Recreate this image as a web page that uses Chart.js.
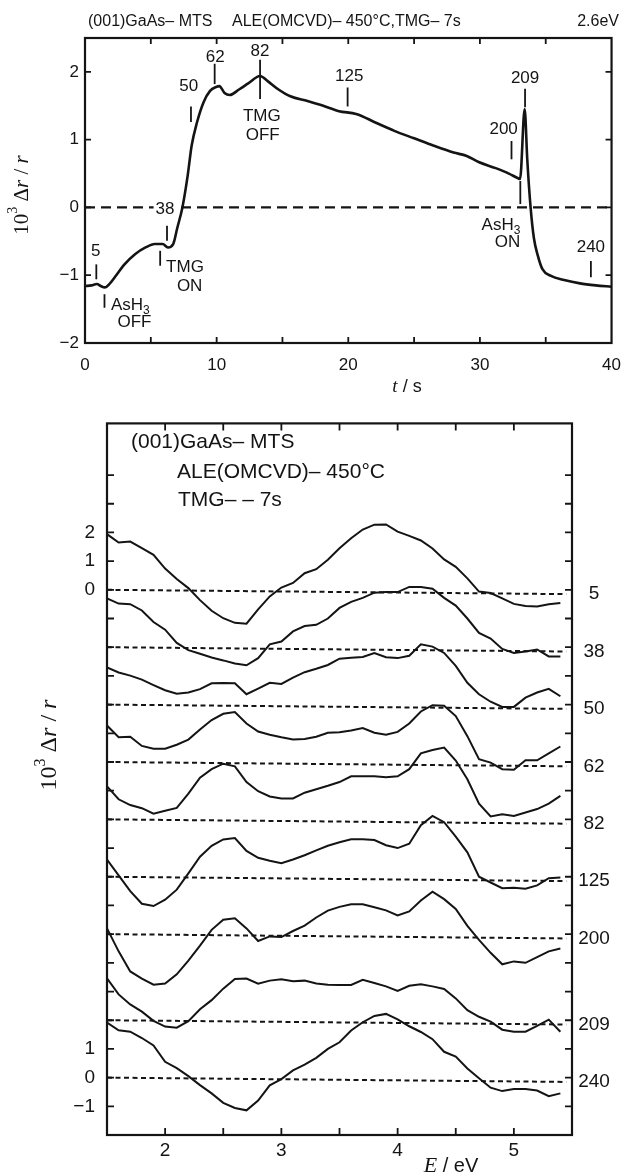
<!DOCTYPE html>
<html lang="en">
<head>
<meta charset="UTF-8">
<title>(001)GaAs ALE reflectance: 2.6 eV transient and spectra</title>
<script src="https://cdn.jsdelivr.net/npm/chart.js@4.4.1/dist/chart.umd.min.js"></script>
<style>
  body { margin: 0; background: #fff; }
  canvas { display: block; }
</style>
</head>
<body>
<canvas id="transient" width="633" height="400"></canvas>
<canvas id="spectra" width="633" height="772"></canvas>
<script>
const INK = '#141414';
const SANS = '"Liberation Sans", Arial, sans-serif';
const SERIF = '"Liberation Serif", "Times New Roman", serif';

// --- top panel: 10^3 dr/r at 2.6 eV versus time ---
const timeS = [0, 0.5, 0.9, 1.2, 1.5, 1.9, 2.3, 3.0, 3.8, 4.6, 5.3, 5.9, 6.3, 6.7, 7.0, 7.4, 7.8, 8.1, 8.5, 9.0,
  9.5, 10.0, 10.2, 10.6, 11.0, 11.7, 12.4, 13.3, 13.9, 14.7, 15.6, 16.9, 18.1, 19.3, 20.6, 22.1, 23.5, 25.0, 26.5, 28.0,
  29.0, 29.9, 31.2, 32.2, 32.9, 33.05, 33.4, 33.6, 33.85, 34.1, 34.4, 34.75, 35.4, 36.4, 37.6, 38.8, 40];
const signal = [-1.16, -1.15, -1.13, -1.16, -1.18, -1.12, -1.02, -0.84, -0.69, -0.59, -0.54, -0.54, -0.59, -0.54, -0.31, 0, 0.47, 0.91, 1.25, 1.55,
  1.72, 1.78, 1.79, 1.69, 1.66, 1.74, 1.83, 1.94, 1.86, 1.74, 1.64, 1.57, 1.5, 1.42, 1.38, 1.25, 1.13, 1.02, 0.91, 0.81,
  0.76, 0.67, 0.58, 0.5, 0.43, 0.42, 1.45, 0.7, 0.0, -0.45, -0.71, -0.91, -1.01, -1.07, -1.12, -1.15, -1.17];

// time marks on the transient (where the spectra below were taken)
const markers = [
  {label: '5',   t: 0.86,  from: -0.84, to: -1.06, lx: 0.82,  ly: -0.64},
  {label: '38',  t: 6.23,  from: -0.27, to: -0.49, lx: 6.08,  ly: -0.03, box: true},
  {label: '50',  t: 8.05,  from: 1.49,  to: 1.26,  lx: 7.88,  ly: 1.79},
  {label: '62',  t: 9.85,  from: 2.12,  to: 1.82,  lx: 9.9,   ly: 2.22},
  {label: '82',  t: 13.3,  from: 2.18,  to: 1.6,   lx: 13.3,  ly: 2.31},
  {label: '125', t: 19.95, from: 1.77,  to: 1.49,  lx: 20.07, ly: 1.94},
  {label: '200', t: 32.4,  from: 0.98,  to: 0.71,  lx: 31.8,  ly: 1.16},
  {label: '209', t: 33.43, from: 1.75,  to: 1.48,  lx: 33.43, ly: 1.9},
  {label: '240', t: 38.43, from: -0.79, to: -1.03, lx: 38.43, ly: -0.59},
  {label: '',    t: 1.48,  from: -1.28, to: -1.48},
  {label: '',    t: 5.71,  from: -0.64, to: -0.86},
  {label: '',    t: 33.07, from: 0.39,  to: 0.05}
];

// --- bottom panel: spectra, each shifted by its offset ---
const energies = [1.5, 1.6, 1.7, 1.8, 1.9, 2.0, 2.1, 2.2, 2.3, 2.4, 2.5, 2.6, 2.7, 2.8, 2.9, 3.0, 3.1, 3.2, 3.3, 3.4,
  3.5, 3.6, 3.7, 3.8, 3.9, 4.0, 4.1, 4.2, 4.3, 4.4, 4.5, 4.6, 4.7, 4.8, 4.9, 5.0, 5.1, 5.2, 5.3, 5.4];
const spectrumLabels = ['5', '38', '50', '62', '82', '125', '200', '209', '240'];
const spectrumOffsets = [0, -2, -4, -6, -8, -10, -12, -15, -17];
const spec5 = [1.94, 1.65, 1.68, 1.45, 1.22, 0.74, 0.38, 0.06, -0.36, -0.73, -0.99, -1.15, -1.18, -0.68, -0.23, 0.08, 0.24, 0.58, 0.72, 1.05,
  1.45, 1.8, 2.1, 2.27, 2.28, 2.03, 1.88, 1.72, 1.44, 1.06, 0.8, 0.4, -0.06, -0.11, -0.3, -0.49, -0.56, -0.58, -0.5, -0.46];
const spec38 = [1.70, 1.52, 1.50, 1.28, 0.88, 0.61, 0.15, -0.1, -0.23, -0.36, -0.46, -0.57, -0.63, -0.38, 0.1, 0.2, 0.55, 0.74, 0.78, 1.0,
  1.37, 1.58, 1.72, 1.9, 1.92, 1.92, 2.1, 2.1, 2.04, 1.72, 1.45, 1.0, 0.5, 0.3, -0.06, -0.2, -0.15, -0.08, -0.32, -0.32];
const spec50 = [1.30, 1.12, 1.01, 0.87, 0.68, 0.50, 0.38, 0.42, 0.54, 0.74, 0.75, 0.74, 0.36, 0.56, 0.76, 0.72, 0.94, 1.13, 1.25, 1.38,
  1.6, 1.63, 1.66, 1.8, 1.65, 1.62, 1.7, 2.1, 2.02, 1.8, 1.35, 0.76, 0.36, 0.1, -0.08, -0.08, 0.24, 0.42, 0.55, 0.29];
const spec62 = [1.27, 0.86, 0.88, 0.56, 0.46, 0.46, 0.6, 0.78, 1.13, 1.46, 1.68, 1.74, 1.34, 1.06, 0.95, 0.86, 0.78, 0.8, 0.88, 1.02,
  1.04, 1.1, 1.18, 1.02, 0.95, 1.05, 1.34, 1.76, 1.98, 1.96, 1.6, 0.9, 0.1, -0.02, -0.25, -0.27, 0.06, 0.06, 0.3, 0.54];
const spec82 = [1.15, 0.7, 0.5, 0.39, 0.2, 0.3, 0.4, 0.9, 1.45, 1.75, 1.94, 1.85, 1.3, 0.98, 0.8, 0.73, 0.73, 0.93, 1.05, 1.17,
  1.3, 1.5, 1.5, 1.5, 1.47, 1.5, 1.75, 2.3, 2.42, 2.5, 2.05, 1.4, 0.55, 0.1, 0.18, 0.12, 0.24, 0.36, 0.55, 0.82];
const spec125 = [0.6, 0.05, -0.5, -0.94, -1.02, -0.8, -0.45, 0.12, 0.7, 1.08, 1.3, 1.35, 0.9, 0.66, 0.56, 0.47, 0.6, 0.75, 0.92, 1.08,
  1.2, 1.31, 1.31, 1.28, 1.1, 1.0, 1.15, 1.8, 2.12, 1.9, 1.4, 0.85, 0.0, -0.2, -0.4, -0.38, -0.42, -0.3, -0.05, -0.03];
const spec200 = [0.2, -0.6, -1.3, -1.55, -1.76, -1.72, -1.4, -0.92, -0.4, 0.15, 0.5, 0.55, 0.2, -0.24, -0.08, -0.1, 0.11, 0.3, 0.58, 0.82,
  0.95, 1.04, 1.04, 0.94, 0.83, 0.65, 0.79, 1.17, 1.48, 1.22, 0.88, 0.29, -0.2, -0.65, -1.05, -0.95, -1.0, -0.8, -0.6, -0.5];
const spec209 = [1.46, 0.9, 0.55, 0.3, -0.02, -0.22, -0.26, -0.03, 0.38, 0.7, 1.1, 1.44, 1.45, 1.27, 1.38, 1.43, 1.36, 1.38, 1.28, 1.24,
  1.23, 1.23, 1.41, 1.3, 1.18, 1.02, 1.2, 1.25, 1.18, 1.09, 0.76, 0.35, 0.12, -0.05, -0.33, -0.4, -0.4, -0.2, 0.02, -0.4];
const spec240 = [1.92, 1.65, 1.6, 1.38, 1.12, 0.55, 0.33, 0.05, -0.26, -0.55, -0.88, -1.06, -1.14, -0.8, -0.27, -0.05, 0.25, 0.45, 0.69, 1.0,
  1.23, 1.64, 1.93, 2.15, 2.22, 2.03, 1.79, 1.59, 1.34, 0.9, 0.73, 0.32, -0.02, -0.35, -0.47, -0.4, -0.4, -0.45, -0.65, -0.55];
const spectra = [spec5, spec38, spec50, spec62, spec82, spec125, spec200, spec209, spec240];
const baselineEnd = 5.45;
const baselineDrift = 0.15;   // zero lines sag slightly to the right in the print
const offsetTickValues = [2, 1, 0, -16, -17, -18];
const offsetTickLabels = ['2', '1', '0', '1', '0', '−1'];

function font(size, family, style) {
  return (style ? style + ' ' : '') + size + 'px ' + family;
}

// draw a run of text pieces [text, font, dy] as one label
function drawParts(ctx, parts, x, y, align) {
  let w = 0;
  parts.forEach(p => { ctx.font = p[1]; w += ctx.measureText(p[0]).width; });
  let cx = align === 'center' ? x - w / 2 : align === 'right' ? x - w : x;
  ctx.textAlign = 'left';
  ctx.textBaseline = 'middle';
  parts.forEach(p => {
    ctx.font = p[1];
    ctx.fillText(p[0], cx, y + (p[2] || 0));
    cx += ctx.measureText(p[0]).width;
  });
}

function drawRotated(ctx, parts, x, y) {
  ctx.save();
  ctx.translate(x, y);
  ctx.rotate(-Math.PI / 2);
  drawParts(ctx, parts, 0, 0, 'center');
  ctx.restore();
}

function chem(base, sub, size) {
  return [[base, font(size, SANS)], [sub, font(Math.round(size * 0.7), SANS), size * 0.32]];
}

function yTitle(size) {
  return [['10', font(size, SERIF)], ['3', font(Math.round(size * 0.65), SERIF), -size * 0.4],
    [' Δ', font(size, SERIF)], ['r', font(size, SERIF, 'italic')], [' / ', font(size, SERIF)], ['r', font(size, SERIF, 'italic')]];
}

// box round the plot plus inward ticks on all four sides
const framePlugin = {
  id: 'frame',
  afterDraw(chart, args, opts) {
    const {ctx, chartArea: a} = chart;
    const x = chart.scales.x, y = chart.scales.y;
    ctx.save();
    ctx.strokeStyle = INK;
    ctx.lineWidth = opts.tickWidth;
    ctx.beginPath();
    x.ticks.forEach(t => {
      if (t.value <= x.min || t.value >= x.max) return;
      const px = x.getPixelForValue(t.value);
      ctx.moveTo(px, a.bottom); ctx.lineTo(px, a.bottom - opts.len);
      ctx.moveTo(px, a.top); ctx.lineTo(px, a.top + opts.len);
    });
    y.ticks.forEach(t => {
      if (t.value <= y.min || t.value >= y.max || !Number.isInteger(t.value) || t.value > opts.yTop) return;
      const py = y.getPixelForValue(t.value);
      ctx.moveTo(a.left, py); ctx.lineTo(a.left + opts.len, py);
      ctx.moveTo(a.right, py); ctx.lineTo(a.right - opts.len, py);
    });
    ctx.stroke();
    ctx.lineWidth = opts.frameWidth;
    ctx.strokeRect(a.left, a.top, a.right - a.left, a.bottom - a.top);
    ctx.restore();
  }
};

const f16 = font(17, SANS);
const events = [
  {parts: chem('AsH', '3', 17), t: 1.97, v: -1.45, align: 'left'},
  {parts: [['OFF', f16]], t: 3.76, v: -1.70, align: 'center'},
  {parts: [['TMG', f16]], t: 6.16, v: -0.89, align: 'left'},
  {parts: [['ON', f16]], t: 7.95, v: -1.16, align: 'center'},
  {parts: [['TMG', f16]], t: 13.43, v: 1.34, align: 'center'},
  {parts: [['OFF', f16]], t: 13.5, v: 1.07, align: 'center'},
  {parts: chem('AsH', '3', 17), t: 31.6, v: -0.27, align: 'center'},
  {parts: [['ON', f16]], t: 32.1, v: -0.52, align: 'center'}
];

const transientNotes = {
  id: 'transientNotes',
  beforeDatasetsDraw(chart) {
    // dashed zero line
    const {ctx, chartArea: a} = chart;
    const y0 = chart.scales.y.getPixelForValue(0);
    ctx.save();
    ctx.strokeStyle = INK;
    ctx.lineWidth = 2.2;
    ctx.setLineDash([10, 6]);
    ctx.beginPath();
    ctx.moveTo(a.left, y0);
    ctx.lineTo(a.right, y0);
    ctx.stroke();
    ctx.restore();
  },
  afterDraw(chart) {
    const {ctx} = chart;
    const x = chart.scales.x, y = chart.scales.y;
    ctx.save();
    ctx.fillStyle = INK;
    ctx.strokeStyle = INK;
    ctx.lineWidth = 1.8;
    markers.forEach(m => {
      const px = x.getPixelForValue(m.t);
      ctx.beginPath();
      ctx.moveTo(px, y.getPixelForValue(m.from));
      ctx.lineTo(px, y.getPixelForValue(m.to));
      ctx.stroke();
      if (!m.label) return;
      const lx = x.getPixelForValue(m.lx), ly = y.getPixelForValue(m.ly);
      if (m.box) {
        ctx.font = f16;
        const w = ctx.measureText(m.label).width;
        ctx.fillStyle = '#fff';
        ctx.fillRect(lx - w / 2 - 2, ly - 8, w + 4, 16);
        ctx.fillStyle = INK;
      }
      drawParts(ctx, [[m.label, f16]], lx, ly, 'center');
    });
    events.forEach(e => drawParts(ctx, e.parts, x.getPixelForValue(e.t), y.getPixelForValue(e.v), e.align));

    drawParts(ctx, [['(001)GaAs– MTS', font(16, SANS)]], 88, 22, 'left');
    drawParts(ctx, [['ALE(OMCVD)– 450°C,TMG– 7s', font(16, SANS)]], 232, 22, 'left');
    drawParts(ctx, [['2.6eV', font(16, SANS)]], 619, 22, 'right');
    drawRotated(ctx, yTitle(21), 22, 195);
    drawParts(ctx, [['t', font(19, SERIF, 'italic')], [' / s', font(18, SANS)]], 407, 387, 'center');
    ctx.restore();
  }
};

const spectraNotes = {
  id: 'spectraNotes',
  afterDraw(chart) {
    const {ctx} = chart;
    const y = chart.scales.y;
    ctx.save();
    ctx.fillStyle = INK;
    spectrumLabels.forEach((lab, i) =>
      drawParts(ctx, [[lab, font(19, SANS)]], 594, y.getPixelForValue(spectrumOffsets[i] - baselineDrift), 'center'));
    drawParts(ctx, [['(001)GaAs– MTS', font(21, SANS)]], 131, 42, 'left');
    drawParts(ctx, [['ALE(OMCVD)– 450°C', font(21, SANS)]], 177, 72, 'left');
    drawParts(ctx, [['TMG– – 7s', font(21, SANS)]], 178, 100, 'left');
    drawRotated(ctx, yTitle(24), 50, 345);
    drawParts(ctx, [['E', font(22, SERIF, 'italic')], [' / eV', font(20, SANS)]], 451, 766, 'center');
    ctx.restore();
  }
};

const signedLabel = v => (v < 0 ? '−' + (-v) : String(v));

new Chart(document.getElementById('transient'), {
  type: 'line',
  data: {
    datasets: [{
      data: timeS.map((t, i) => ({x: t, y: signal[i]})),
      borderColor: INK,
      borderWidth: 2.6,
      pointRadius: 0,
      cubicInterpolationMode: 'monotone'
    }]
  },
  options: {
    responsive: false,
    animation: false,
    events: [],
    layout: {padding: {left: 0, right: 7, top: 38, bottom: 0}},
    plugins: {
      legend: {display: false},
      tooltip: {enabled: false},
      frame: {len: 6, tickWidth: 1.8, frameWidth: 2.2, yTop: 99}
    },
    scales: {
      x: {
        type: 'linear', min: 0, max: 40,
        afterFit: s => { s.height = 57; },
        grid: {display: false, drawTicks: false},
        border: {display: false},
        ticks: {stepSize: 5, autoSkip: false, maxRotation: 0, padding: 12, color: INK,
          font: {family: SANS, size: 17},
          callback: v => (v % 10 === 0 ? String(v) : '')}
      },
      y: {
        min: -2, max: 2.5,
        afterFit: s => { s.width = 85; },
        grid: {display: false, drawTicks: false},
        border: {display: false},
        ticks: {stepSize: 1, padding: 6, color: INK, font: {family: SANS, size: 17},
          callback: v => (Number.isInteger(v) ? signedLabel(v) : '')}
      }
    }
  },
  plugins: [framePlugin, transientNotes]
});

const spectraSets = spectra.map((vals, i) => ({
  data: energies.map((e, j) => ({x: e, y: spectrumOffsets[i] + vals[j]})),
  borderColor: INK,
  borderWidth: 2,
  pointRadius: 0,
  tension: 0
}));
const baselineSets = spectrumOffsets.map(off => ({
  data: [{x: energies[0], y: off}, {x: baselineEnd, y: off - baselineDrift}],
  borderColor: INK,
  borderWidth: 2,
  borderDash: [5, 3.5],
  pointRadius: 0
}));

new Chart(document.getElementById('spectra'), {
  type: 'line',
  data: {datasets: spectraSets.concat(baselineSets)},
  options: {
    responsive: false,
    animation: false,
    events: [],
    layout: {padding: {left: 0, right: 61, top: 18, bottom: 0}},
    plugins: {
      legend: {display: false},
      tooltip: {enabled: false},
      frame: {len: 7, tickWidth: 1.8, frameWidth: 2.2, yTop: 4}
    },
    scales: {
      x: {
        type: 'linear', min: 1.5, max: 5.5,
        afterFit: s => { s.height = 37; },
        grid: {display: false, drawTicks: false},
        border: {display: false},
        ticks: {stepSize: 0.5, autoSkip: false, maxRotation: 0, padding: 4, color: INK,
          font: {family: SANS, size: 19},
          callback: v => (Number.isInteger(v) ? String(v) : '')}
      },
      y: {
        min: -19, max: 5.8,
        afterFit: s => { s.width = 107; },
        grid: {display: false, drawTicks: false},
        border: {display: false},
        ticks: {stepSize: 1, autoSkip: false, padding: 12, color: INK, font: {family: SANS, size: 19},
          callback: v => {
            const k = offsetTickValues.indexOf(v);
            return k >= 0 ? offsetTickLabels[k] : '';
          }}
      }
    }
  },
  plugins: [framePlugin, spectraNotes]
});
</script>
</body>
</html>
